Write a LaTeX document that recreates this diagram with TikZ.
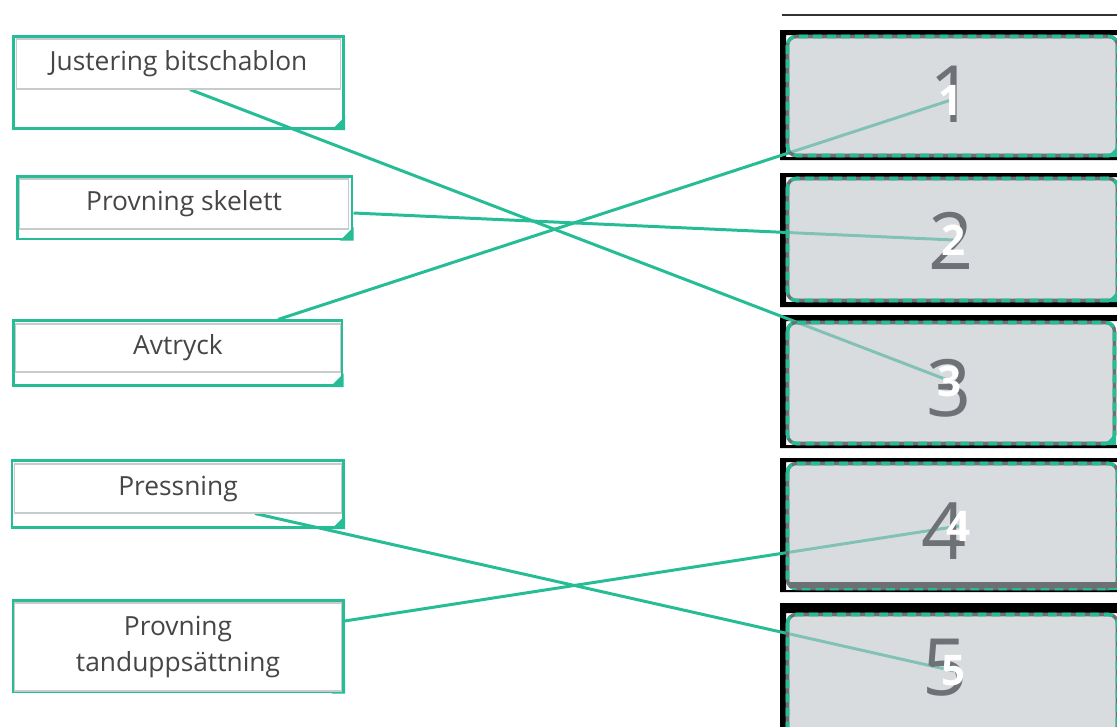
\documentclass[tikz,border=0pt]{standalone}
\usepackage{fontspec}
\setmainfont{Open Sans}
\usetikzlibrary{positioning,calc}

\definecolor{matchgreen}{RGB}{38,189,150}
\definecolor{cardgray}{RGB}{192,197,202}
\definecolor{rimgray}{RGB}{108,111,115}
\definecolor{numgray}{RGB}{110,113,117}
\definecolor{textgray}{RGB}{70,70,72}
\definecolor{edgegray}{RGB}{200,202,206}

\pgfdeclarelayer{frames}
\pgfdeclarelayer{links}
\pgfsetlayers{frames,links,main}

\tikzset{
  itembox/.style={draw=edgegray, line width=0.6pt, fill=white, text=textgray,
    font=\fontsize{15}{21}\selectfont, align=center, inner sep=0pt},
  outerbox/.style={draw=matchgreen, line width=1.7pt},
  match/.style={draw=matchgreen, line width=1.7pt},
  bignum/.style={text=numgray, font=\fontsize{45}{45}\selectfont, inner sep=0pt},
  smallnum/.style={text=white, font=\bfseries\fontsize{24}{24}\selectfont, inner sep=0pt},
}

\begin{document}
\begin{tikzpicture}[x=0.02cm,y=-0.02cm]
    \clip (0,0) rectangle (1117,727);

    % left: the steps
    \node[itembox, minimum width=6.5cm, minimum height=1cm] (just) at (178.5,64) {Justering bitschablon};
    \node[itembox, minimum width=6.6cm, minimum height=1cm] (skel) at (184,204) {Provning skelett};
    \node[itembox, minimum width=6.52cm, minimum height=0.96cm] (avt) at (178,348) {Avtryck};
    \node[itembox, minimum width=6.56cm, minimum height=0.98cm] (press) at (178,488.5) {Pressning};
    \node[itembox, minimum width=6.56cm, minimum height=1.76cm] (tand) at (178,647) {Provning\\tanduppsättning};

    \begin{pgfonlayer}{frames}
        \foreach \xa/\ya/\xb/\yb in {13.5/36.5/343.5/128.5, 17.5/176.5/352/239,
                13.5/320.5/342/385.5, 12/460.5/343.5/527.5, 13.5/600.5/343.5/692}{
            \draw[outerbox] (\xa,\ya) rectangle (\xb,\yb);
            \fill[matchgreen] (\xb+1.5,\yb-12) -- (\xb+1.5,\yb+1.5) -- (\xb-12,\yb+1.5) -- cycle;
        }
        \draw[line width=1.2pt,black!80] (782,15) -- (1117,15);
    \end{pgfonlayer}

    % right: the slots
    \foreach \n/\ya/\yb/\ga/\gb/\gr in {1/30/160/35/157/1119, 2/173/307/177/302/1119,
            3/315/448/321/445/1116, 4/458/592/462/590/1119, 5/603/740/613/740/1119}{
        \begin{pgfonlayer}{frames}
            \fill[black,even odd rule] (780,\ya) rectangle (1135,\yb) (786,\ga) rectangle (1135,\gb);
        \end{pgfonlayer}
        \fill[cardgray,fill opacity=0.6,rounded corners=5] (787.5,\ga+1.5) rectangle (\gr-1.5,\gb-1.5);
        \draw[rimgray,line width=2pt,rounded corners=5] (787.5,\ga+1.5) rectangle (\gr-1.5,\gb-1.5);
        \draw[matchgreen,line width=2pt,rounded corners=5,dash pattern=on 5pt off 3pt]
            (787.5,\ga+1.5) rectangle (\gr-1.5,\gb-1.5);
        \fill[matchgreen] (\gr,\gb-12) -- (\gr,\gb) -- (\gr-12,\gb) -- cycle;
    }
    \fill[rimgray] (789,582) rectangle (1117,588);

    \node[bignum] (bn1) at (952,94) {1};
    \node[bignum] (bn2) at (951,241) {2};
    \node[bignum] (bn3) at (949,388) {3};
    \node[bignum] (bn4) at (944,531) {4};
    \node[bignum] (bn5) at (945,668) {5};

    \node[smallnum] (wn1) at (951,100) {1};
    \node[smallnum] (wn2) at (954,240) {2};
    \node[smallnum] (wn3) at (950,381) {3};
    \node[smallnum] (wn4) at (959,526) {4};
    \node[smallnum] (wn5) at (954,671) {5};

    \begin{pgfonlayer}{links}
        \draw[match] ($(just.south)+(11.5,0)$) -- (wn3.center);
        \draw[match] ($(skel.east)+(4,9)$) -- (wn2.center);
        \draw[match] ($(avt.north)+(100,-4)$) -- (wn1.center);
        \draw[match] ($(press.south)+(77,0)$) -- (wn5.center);
        \draw[match] ($(tand.east)+(2,-26)$) -- (wn4.center);
    \end{pgfonlayer}
\end{tikzpicture}
\end{document}
